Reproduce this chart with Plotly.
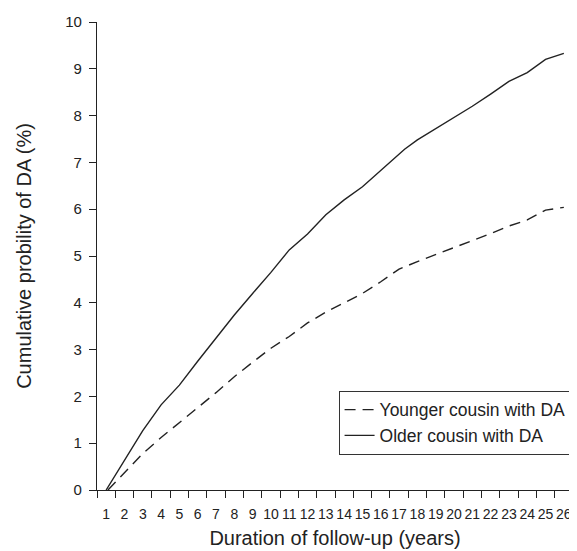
import plotly.graph_objects as go

# ---- data ----
years = list(range(1, 27))
tick_labels = [str(v) for v in years]

older_x = [1, 2, 3, 4, 5, 6, 7, 8, 9, 10, 11, 12, 13, 14, 15, 16, 17, 17.3,
           18, 19, 20, 21, 22, 23, 24, 25, 26]
older_y = [0, 0.65, 1.27, 1.82, 2.24, 2.75, 3.25, 3.74, 4.2, 4.65, 5.13, 5.47,
           5.88, 6.2, 6.48, 6.82, 7.17, 7.28, 7.48, 7.72, 7.95, 8.2, 8.46,
           8.73, 8.92, 9.2, 9.33]

younger_x = [1.1, 2, 3, 4, 5, 6, 7, 8, 9, 10, 11, 12, 13, 14, 15, 16, 17,
             18, 19, 20, 21, 22, 23, 24, 25, 26]
younger_y = [0, 0.36, 0.78, 1.12, 1.45, 1.76, 2.08, 2.42, 2.73, 3.03, 3.28,
             3.57, 3.8, 4.0, 4.2, 4.45, 4.72, 4.88, 5.03, 5.17, 5.32, 5.48,
             5.64, 5.77, 5.98, 6.04]

y_ticks = list(range(0, 11))

LINE = "#222222"
FONT = "Liberation Sans, Arial, sans-serif"

fig = go.Figure()
fig.add_trace(go.Scatter(
    x=younger_x, y=younger_y, mode="lines", name="Younger cousin with DA",
    line=dict(color=LINE, width=1.4, dash="11px,7px"),
))
fig.add_trace(go.Scatter(
    x=older_x, y=older_y, mode="lines", name="Older cousin with DA",
    line=dict(color=LINE, width=1.4),
))

# the page body has an 8px margin, so the figure is sized to fit inside it
fig.update_layout(
    width=569, height=543,
    margin=dict(l=89, r=4, t=14, b=61),
    paper_bgcolor="white", plot_bgcolor="white",
    font=dict(family=FONT, color="#222222"),
    showlegend=True,
    legend=dict(
        x=0.997, xanchor="right", y=0.212, yanchor="top",
        bordercolor="#333333", borderwidth=1, bgcolor="white",
        font=dict(size=17.5, family=FONT, color="#222222"),
        itemwidth=30, tracegroupgap=0,
        entrywidth=240, entrywidthmode="pixels",
    ),
    xaxis=dict(
        range=[0.5, 26.5],
        tickmode="array", tickvals=years, ticktext=tick_labels,
        ticks="", showgrid=False, zeroline=False,
        showline=True, linecolor="#222222", linewidth=1.2,
        tickangle=0,
        tickfont=dict(size=14, family="Liberation Sans Narrow, Liberation Sans, Arial", color="#222222"),
        ticklabelstandoff=11,
        minor=dict(tickmode="array", tickvals=[v - 0.5 for v in years] + [26.5],
                   ticks="outside", ticklen=7, tickwidth=1.2, tickcolor="#222222",
                   showgrid=False),
        title=dict(text="Duration of follow-up (years)", font=dict(size=20), standoff=10),
        fixedrange=True,
    ),
    yaxis=dict(
        range=[0, 10],
        tickmode="array", tickvals=y_ticks,
        ticks="outside", ticklen=7, tickwidth=1.2, tickcolor="#222222",
        showgrid=False, zeroline=False,
        showline=True, linecolor="#222222", linewidth=1.2,
        tickfont=dict(size=15, color="#222222"),
        ticklabelstandoff=4,
        title=dict(text="Cumulative probility of DA (%)", font=dict(size=20), standoff=28),
        fixedrange=True,
    ),
)

fig.write_html("out.html")
